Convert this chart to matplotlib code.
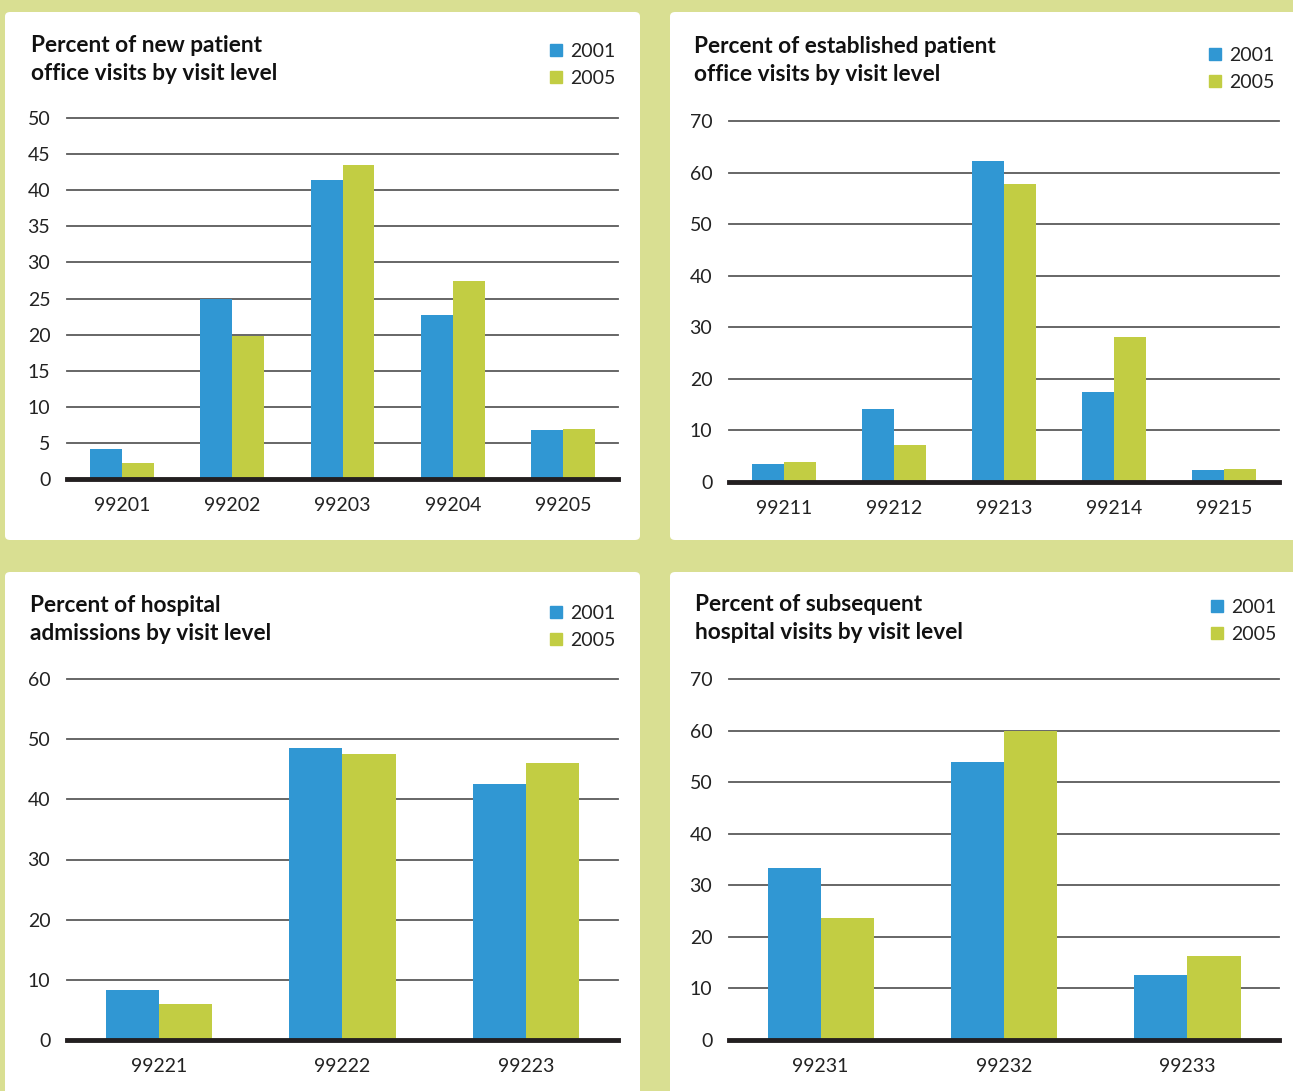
import matplotlib
matplotlib.use('Agg')
from matplotlib import pyplot as plt
from matplotlib.patches import FancyBboxPatch, Patch
import numpy as np

# data
new_codes = ['99201', '99202', '99203', '99204', '99205']
new_2001 = [4.2, 24.9, 41.4, 22.7, 6.8]
new_2005 = [2.2, 19.8, 43.5, 27.4, 6.9]

est_codes = ['99211', '99212', '99213', '99214', '99215']
est_2001 = [3.5, 14.2, 62.2, 17.5, 2.3]
est_2005 = [3.9, 7.2, 57.8, 28.1, 2.5]

adm_codes = ['99221', '99222', '99223']
adm_2001 = [8.3, 48.5, 42.5]
adm_2005 = [6.0, 47.5, 46.0]

sub_codes = ['99231', '99232', '99233']
sub_2001 = [33.4, 53.9, 12.6]
sub_2005 = [23.7, 59.9, 16.3]

years = ['2001', '2005']

BLUE = '#3097d3'
GREEN = '#c2cd43'
BG = '#d9df92'
W, H = 1293, 1091

plt.rcParams['font.family'] = ['Lato', 'DejaVu Sans']

fig = plt.figure(figsize=(W / 100, H / 100), dpi=100, facecolor=BG)


def px_box(x0, y0, x1, y1):
    # pixel box (top-left origin) -> figure fraction [l, b, w, h]
    return [x0 / W, 1 - y1 / H, (x1 - x0) / W, (y1 - y0) / H]


# white panels
for x0, y0, x1, y1 in [(5, 12, 640, 540), (670, 12, 1300, 540),
                       (5, 572, 640, 1100), (670, 572, 1300, 1100)]:
    l, b, w, h = px_box(x0, y0, x1, y1)
    fig.patches.append(FancyBboxPatch((l, b), w, h, boxstyle='round,pad=0,rounding_size=0.004',
                                      transform=fig.transFigure, facecolor='white',
                                      edgecolor='none', zorder=-5))

panels = [
    (new_codes, new_2001, new_2005, 50, 5, (67, 118, 618, 479),
     'Percent of new patient\noffice visits by visit level', (31, 35), (616, 43)),
    (est_codes, est_2001, est_2005, 70, 10, (729, 121, 1279, 482),
     'Percent of established patient\noffice visits by visit level', (694, 36), (1275, 47)),
    (adm_codes, adm_2001, adm_2005, 60, 10, (67, 679, 618, 1040),
     'Percent of hospital\nadmissions by visit level', (30, 595), (616, 605)),
    (sub_codes, sub_2001, sub_2005, 70, 10, (729, 679, 1279, 1040),
     'Percent of subsequent\nhospital visits by visit level', (695, 594), (1277, 599)),
]

for codes, v1, v2, ymax, step, box, title, tpos, lpos in panels:
    ax = fig.add_axes(px_box(*box), zorder=2)
    ax.set_facecolor('none')
    x = np.arange(len(codes))
    bw = 0.29
    ax.bar(x - bw / 2, v1, bw, color=BLUE, zorder=3)
    ax.bar(x + bw / 2, v2, bw, color=GREEN, zorder=3)
    ax.set_xlim(-0.5, len(codes) - 0.5)
    ax.set_ylim(0, ymax)
    ticks = np.arange(0, ymax + 1, step)
    ax.set_yticks(ticks)
    ax.set_yticklabels([str(t) for t in ticks], fontsize=14, color='#222222')
    ax.set_xticks(x)
    ax.set_xticklabels(codes, fontsize=14, color='#222222')
    for t in ticks[1:]:
        ax.axhline(t, color='#5a5a5a', lw=1.3, zorder=1, clip_on=False)
    ax.axhline(0, color='#231f20', lw=3.5, zorder=4, clip_on=False)
    for s in ax.spines.values():
        s.set_visible(False)
    ax.tick_params(axis='y', length=0, pad=12)
    ax.tick_params(axis='x', length=0, pad=13)

    fig.text(tpos[0] / W, 1 - tpos[1] / H, title, fontsize=16.3, fontweight='bold',
             color='#111111', va='top', ha='left', linespacing=1.4, zorder=3)
    handles = [Patch(color=BLUE), Patch(color=GREEN)]
    fig.legend(handles, years, loc='upper right', bbox_to_anchor=(lpos[0] / W, 1 - lpos[1] / H),
               frameon=False, fontsize=14, handlelength=0.62, handleheight=0.62,
               handletextpad=0.45, labelspacing=0.5, borderpad=0, borderaxespad=0,
               labelcolor='#222222')

fig.savefig('out.png', dpi=100, facecolor=BG)
